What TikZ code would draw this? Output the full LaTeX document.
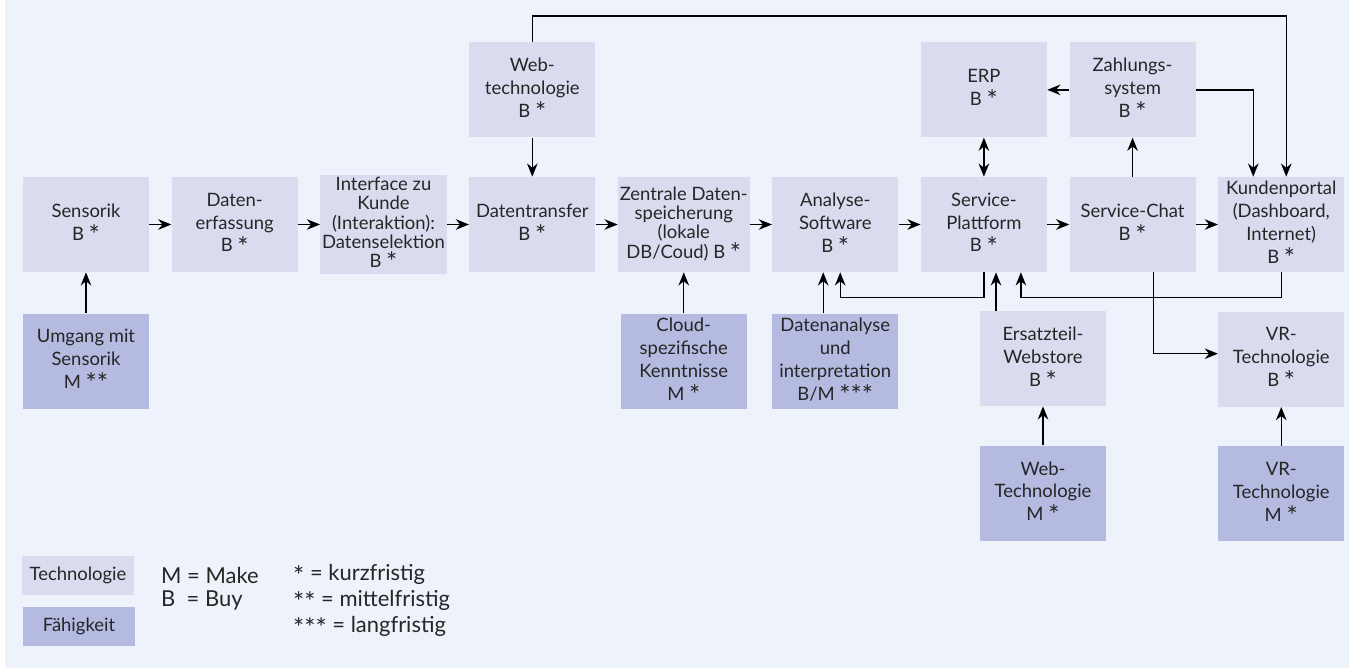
\documentclass[tikz,border=0pt]{standalone}
\usepackage{fontspec}
\setsansfont{Lato}
\usetikzlibrary{arrows.meta,positioning}
\definecolor{bgblue}{HTML}{EEF2FB}
\definecolor{techfill}{HTML}{D9DCEF}
\definecolor{skillfill}{HTML}{B4BAE0}
\newcommand{\stern}{\raisebox{-0.45ex}{\fontsize{15}{15}\selectfont *}}

\begin{document}
\begin{tikzpicture}[x=0.02cm, y=-0.02cm,
  every node/.style={font=\sffamily\fontsize{10.5}{13}\selectfont, text=black!85},
  >={Stealth[length=7.5pt,width=6pt]},
  tech/.style={fill=techfill, align=center, minimum width=2.52cm, minimum height=1.9cm, inner sep=1pt},
  skill/.style={tech, fill=skillfill},
  tight/.style={font=\sffamily\fontsize{10.5}{11}\selectfont},
  legbox/.style={minimum width=2.24cm, minimum height=0.78cm},
  legtext/.style={anchor=west, font=\sffamily\fontsize{12.5}{14}\selectfont},
  link/.style={->, line width=0.8pt}]
  \useasboundingbox (0,0) rectangle (1349,669);
  \fill[bgblue] (5,0) rectangle (1349,668);

  % main chain
  \node[tech] (sensorik) at (86,224.5) {Sensorik\\B \stern};
  \node[tech, right=0.44cm of sensorik] (erfassung) {Daten-\\erfassung\\B \stern};
  \node[tech, tight, right=0.44cm of erfassung] (interface) {Interface zu\\Kunde\\(Interaktion):\\Datenselektion\\B \stern};
  \node[tech, right=0.44cm of interface] (transfer) {Datentransfer\\B \stern};
  \node[tech, tight, right=0.44cm of transfer] (zentral) {Zentrale Daten-\\speicherung\\(lokale\\DB/Coud) B \stern};
  \node[tech, right=0.44cm of zentral] (analyse) {Analyse-\\Software\\B \stern};
  \node[tech, right=0.44cm of analyse] (plattform) {Service-\\Plattform\\B \stern};
  \node[tech, right=0.44cm of plattform] (chat) {Service-Chat\\B \stern};
  \node[tech, right=0.44cm of chat] (portal) {Kundenportal\\(Dashboard,\\Internet)\\B \stern};

  % upper row
  \node[tech, above=0.78cm of transfer] (web) {Web-\\technologie\\B \stern};
  \node[tech, above=0.78cm of plattform] (erp) {ERP\\B \stern};
  \node[tech, above=0.78cm of chat] (zahlung) {Zahlungs-\\system\\B \stern};

  % lower rows
  \node[skill, below=0.82cm of sensorik] (umgang) {Umgang mit\\Sensorik\\M \stern\stern};
  \node[skill, below=0.82cm of zentral] (cloud) {Cloud-\\spezifische\\Kenntnisse\\M \stern};
  \node[skill, below=0.82cm of analyse] (datenanalyse) {Datenanalyse\\und\\interpretation\\B/M \stern\stern\stern};
  \node[tech] (ersatzteil) at (1043,358.5) {Ersatzteil-\\Webstore\\B \stern};
  \node[tech, below=0.78cm of portal] (vrb) {VR-\\Technologie\\B \stern};
  \node[skill, below=0.78cm of ersatzteil] (webm) {Web-\\Technologie\\M \stern};
  \node[skill, below=0.78cm of vrb] (vrm) {VR-\\Technologie\\M \stern};

  % connectors
  \foreach \a/\b in {sensorik/erfassung, erfassung/interface, interface/transfer,
    transfer/zentral, zentral/analyse, analyse/plattform, plattform/chat, chat/portal,
    web/transfer, zahlung/erp, chat/zahlung, umgang/sensorik, cloud/zentral,
    webm/ersatzteil, vrm/vrb}
    \draw[link] (\a) -- (\b);
  \draw[link] (web.north) -- ++(0,-26) -| ([xshift=0.1cm]portal.north);
  \draw[link] (zahlung.east) -| ([xshift=-0.56cm]portal.north);
  \draw[<->, line width=0.8pt] (erp) -- (plattform);
  \draw[link] (plattform.south) -- ++(0,25) -| ([xshift=0.1cm]analyse.south);
  \draw[link] ([xshift=-0.24cm]datenanalyse.north) -- ([xshift=-0.24cm]analyse.south);
  \draw[link] (portal.south) -- ++(0,25) -| ([xshift=0.74cm]plattform.south);
  \draw[link] ([xshift=-0.94cm]ersatzteil.north) -- ([xshift=-0.94cm]ersatzteil.north |- plattform.south);
  \draw[link] ([xshift=0.42cm]chat.south) |- ([yshift=0.11cm]vrb.west);

  % legend
  \node[tech, legbox] (legtech) at (78,575.5) {Technologie};
  \node[skill, legbox] (legskill) at (79,626.5) {Fähigkeit};
  \node[legtext] (make) at (155,575) {M = Make};
  \node[legtext] (buy) at (155,601) {B\ \ = Buy};
  \node[legtext] (kurz) at (287,575) {\stern{} = kurzfristig};
  \node[legtext] (mittel) at (287,601) {\stern\stern{} = mittelfristig};
  \node[legtext] (lang) at (287,627) {\stern\stern\stern{} = langfristig};
\end{tikzpicture}
\end{document}
